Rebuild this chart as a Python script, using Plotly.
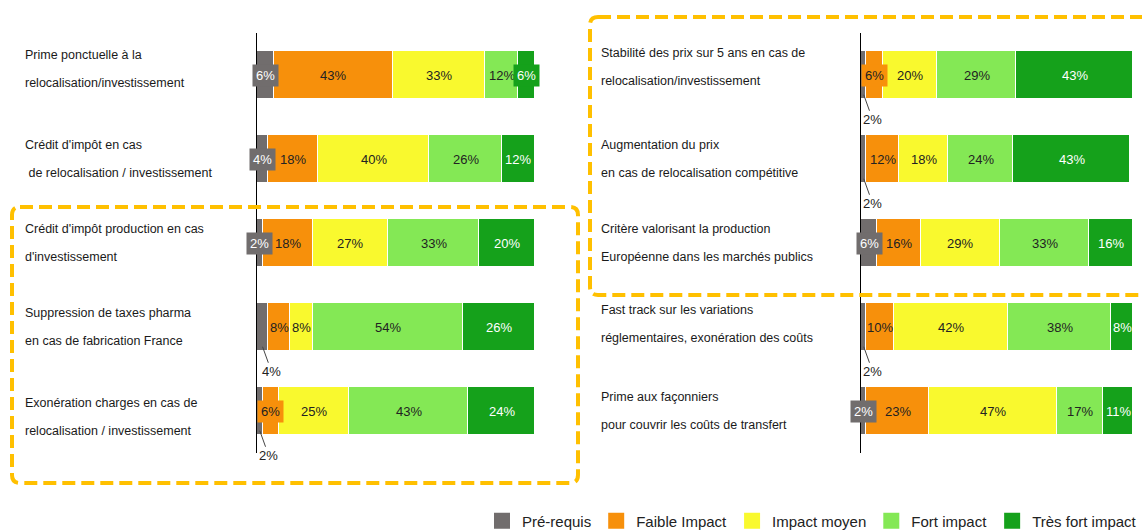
import plotly.graph_objects as go

# ---------------- data ----------------
series_names = ["Pré-requis", "Faible Impact", "Impact moyen", "Fort impact", "Très fort impact"]

left_categories = [
    "Prime ponctuelle à la<br>relocalisation/investissement",
    "Crédit d'impôt en cas<br> de relocalisation / investissement",
    "Crédit d'impôt production en cas<br>d'investissement",
    "Suppression de taxes pharma<br>en cas de fabrication France",
    "Exonération charges en cas de<br>relocalisation / investissement",
]
left_prereq = [6, 4, 2, 4, 2]
left_faible = [43, 18, 18, 8, 6]
left_moyen = [33, 40, 27, 8, 25]
left_fort = [12, 26, 33, 54, 43]
left_tres_fort = [6, 12, 20, 26, 24]

right_categories = [
    "Stabilité des prix sur 5 ans en cas de<br>relocalisation/investissement",
    "Augmentation du prix<br>en cas de relocalisation compétitive",
    "Critère valorisant la production<br>Européenne dans les marchés publics",
    "Fast track sur les variations<br>réglementaires, exonération des coûts",
    "Prime aux façonniers<br>pour couvrir les coûts de transfert",
]
right_prereq = [2, 2, 6, 2, 2]
right_faible = [6, 12, 16, 10, 23]
right_moyen = [20, 18, 29, 42, 47]
right_fort = [29, 24, 33, 38, 17]
right_tres_fort = [43, 43, 16, 8, 11]

# which "Pré-requis" labels are written below the bar with a leader line
left_prereq_outside = [False, False, False, True, True]
right_prereq_outside = [True, True, False, True, False]

# ---------------- style ----------------
series_colors = ["#716d6d", "#f7900b", "#f9f92e", "#84e855", "#15a11b"]
text_colors = ["white", "#222222", "#222222", "#222222", "white"]
FONT = "Liberation Sans, Arial, sans-serif"
CAT_SIZE = 12.5
NUM_SIZE = 13
W, H = 1142, 531
M_T, M_B = 33, 78
PH = H - M_T - M_B
BAR_W = 0.57
# small vertical nudges of the category label blocks (in category units)
left_label_nudge = [-0.07, 0.0, 0.0, 0.0, 0.07]
right_label_nudge = [-0.1, 0.0, 0.0, -0.04, 0.0]


def px_x(px):
    return px / W


def px_y(py):
    return (H - M_B - py) / PH


fig = go.Figure()

panels = [
    dict(cats=left_categories,
         series=[left_prereq, left_faible, left_moyen, left_fort, left_tres_fort],
         outside=left_prereq_outside, nudge=left_label_nudge,
         xa="x", ya="y", label_x=px_x(24)),
    dict(cats=right_categories,
         series=[right_prereq, right_faible, right_moyen, right_fort, right_tres_fort],
         outside=right_prereq_outside, nudge=right_label_nudge,
         xa="x2", ya="y2", label_x=px_x(600)),
]

annotations = []
for p in panels:
    cats = p["cats"]
    for s, vals in enumerate(p["series"]):
        fig.add_trace(go.Bar(
            y=cats, x=vals, orientation="h", name=series_names[s],
            marker=dict(color=series_colors[s], line=dict(color="white", width=1)),
            width=BAR_W, xaxis=p["xa"], yaxis=p["ya"], showlegend=False,
            hoverinfo="skip",
        ))
    xref = p["xa"]
    yref = p["ya"]
    for i, cat in enumerate(cats):
        lines = cat.split("<br>")
        offs = [-0.167, 0.167]
        for ln, off in zip(lines, offs):
            annotations.append(dict(
                text=("&nbsp;" + ln[1:]) if ln.startswith(" ") else ln,
                xref="paper", yref=yref, x=p["label_x"], y=i + off + p["nudge"][i],
                xanchor="left", yanchor="middle", showarrow=False, borderpad=0,
                font=dict(family=FONT, size=CAT_SIZE, color="#1a1a1a"),
            ))
        cum = 0
        for s, vals in enumerate(p["series"]):
            v = vals[i]
            center = cum + v / 2
            cum += v
            txt = f"{v}%"
            if s == 0 and p["outside"][i]:
                annotations.append(dict(
                    text=txt, xref=xref, yref=yref, x=center, y=i + BAR_W / 2 - 0.05,
                    showarrow=True, arrowhead=0, arrowwidth=1, arrowcolor="#444444",
                    ax=9, ay=25, standoff=0,
                    font=dict(family=FONT, size=NUM_SIZE, color="#222222"),
                ))
            elif v <= 6:
                annotations.append(dict(
                    text=txt, xref=xref, yref=yref, x=center, y=i,
                    showarrow=False, bgcolor=series_colors[s], borderpad=3,
                    font=dict(family=FONT, size=NUM_SIZE, color=text_colors[s]),
                ))
            else:
                annotations.append(dict(
                    text=txt, xref=xref, yref=yref, x=center, y=i,
                    showarrow=False,
                    font=dict(family=FONT, size=NUM_SIZE, color=text_colors[s]),
                ))

# legend proxies (bigger square swatches)
for s, name in enumerate(series_names):
    fig.add_trace(go.Scatter(
        x=[None], y=[None], mode="markers", name=name,
        marker=dict(symbol="square", size=18, color=series_colors[s]),
        xaxis="x", yaxis="y", showlegend=True, hoverinfo="skip",
    ))


def rounded_box(x0p, y0p, x1p, y1p, r=8):
    rx, ry = r / W, r / PH
    x0, x1 = px_x(x0p), px_x(x1p)
    yt, yb = px_y(y0p), px_y(y1p)
    return (f"M {x0 + rx} {yt} L {x1 - rx} {yt} Q {x1} {yt} {x1} {yt - ry} "
            f"L {x1} {yb + ry} Q {x1} {yb} {x1 - rx} {yb} "
            f"L {x0 + rx} {yb} Q {x0} {yb} {x0} {yb + ry} "
            f"L {x0} {yt - ry} Q {x0} {yt} {x0 + rx} {yt} Z")


box_line = dict(color="#ffc000", width=4, dash="13px,6px")
shapes = [
    dict(type="path", xref="paper", yref="paper", path=rounded_box(12, 207, 578, 483), line=box_line),
    dict(type="path", xref="paper", yref="paper", path=rounded_box(590, 17, 1160, 295), line=box_line),
]

fig.update_layout(
    width=W, height=H,
    margin=dict(l=0, r=0, t=M_T, b=M_B, autoexpand=False),
    paper_bgcolor="white", plot_bgcolor="white",
    barmode="stack", bargap=0,
    font=dict(family=FONT, size=14, color="#222222"),
    xaxis=dict(domain=[px_x(257), px_x(535)], range=[0, 100], visible=False, fixedrange=True),
    xaxis2=dict(domain=[px_x(861), px_x(1133)], range=[0, 100], visible=False, fixedrange=True),
    yaxis=dict(anchor="x", type="category", categoryorder="array", categoryarray=left_categories,
               range=[4.5, -0.5], showticklabels=False, ticks="", showgrid=False, zeroline=False,
               showline=True, linecolor="black", linewidth=1, fixedrange=True),
    yaxis2=dict(anchor="x2", type="category", categoryorder="array", categoryarray=right_categories,
                range=[4.5, -0.5], showticklabels=False, ticks="", showgrid=False, zeroline=False,
                showline=True, linecolor="black", linewidth=1, fixedrange=True),
    legend=dict(orientation="h", x=1.0, xanchor="right", y=px_y(521), yanchor="middle",
                font=dict(family=FONT, size=15, color="#222222"), traceorder="normal",
                itemclick=False, itemdoubleclick=False, tracegroupgap=0),
    annotations=annotations,
    shapes=shapes,
    showlegend=True,
)

fig.write_html(
    "out.html",
    config={"displayModeBar": False},
    post_script="document.body.style.margin='0';document.body.style.overflow='hidden';",
)
